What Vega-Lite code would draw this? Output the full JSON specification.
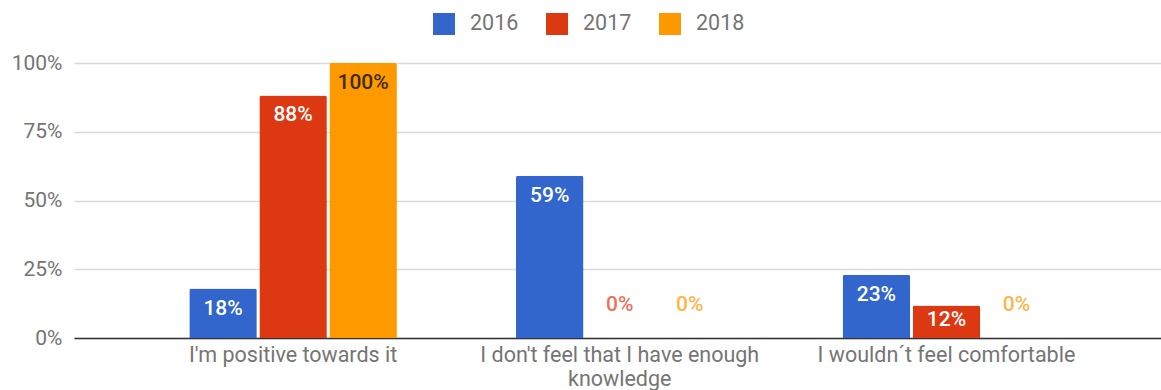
{
  "$schema": "https://vega.github.io/schema/vega-lite/v6.json",
  "width": 1087,
  "height": 275,
  "autosize": {"type": "none"},
  "padding": {"left": 74, "top": 63, "right": 0, "bottom": 52},
  "background": "white",
  "config": {"view": {"stroke": null}, "font": "Roboto"},
  "data": {
    "values": [
      {"answer": "I'm positive towards it", "year": "2016", "value": 0.18},
      {"answer": "I'm positive towards it", "year": "2017", "value": 0.882},
      {"answer": "I'm positive towards it", "year": "2018", "value": 1.0},
      {"answer": "I don't feel that I have enough knowledge", "year": "2016", "value": 0.59},
      {"answer": "I don't feel that I have enough knowledge", "year": "2017", "value": 0},
      {"answer": "I don't feel that I have enough knowledge", "year": "2018", "value": 0},
      {"answer": "I wouldn´t feel comfortable", "year": "2016", "value": 0.23},
      {"answer": "I wouldn´t feel comfortable", "year": "2017", "value": 0.118},
      {"answer": "I wouldn´t feel comfortable", "year": "2018", "value": 0}
    ]
  },
  "encoding": {
    "x": {
      "field": "answer",
      "type": "nominal",
      "sort": ["I'm positive towards it", "I don't feel that I have enough knowledge", "I wouldn´t feel comfortable"],
      "scale": {"paddingInner": 0.3645, "paddingOuter": 0.346, "align": 0.51},
      "axis": {
        "title": null,
        "labelAngle": 0,
        "labelLimit": 0,
        "ticks": false,
        "domainColor": "#333333",
        "domainWidth": 1.5,
        "labelFontSize": 21.5,
        "labelColor": "#757575",
        "labelPadding": 6,
        "labelLineHeight": 24,
        "labelExpr": "datum.value == \"I don't feel that I have enough knowledge\" ? [\"I don't feel that I have enough\", \"knowledge\"] : datum.label"
      }
    },
    "xOffset": {
      "field": "year",
      "type": "nominal",
      "scale": {"paddingInner": 0.036, "paddingOuter": 0}
    },
    "y": {
      "field": "value",
      "type": "quantitative",
      "scale": {"domain": [0, 1]},
      "axis": {
        "title": null,
        "values": [0, 0.25, 0.5, 0.75, 1],
        "format": ".0%",
        "domain": false,
        "ticks": false,
        "labelFontSize": 21,
        "labelColor": "#757575",
        "labelPadding": 12,
        "gridColor": "#d9d9d9",
        "gridWidth": 1.5
      }
    }
  },
  "layer": [
    {
      "mark": {"type": "bar", "cornerRadiusTopLeft": 2, "cornerRadiusTopRight": 2},
      "encoding": {
        "color": {
          "field": "year",
          "type": "nominal",
          "scale": {"domain": ["2016", "2017", "2018"], "range": ["#3366CC", "#DC3912", "#FF9900"]},
          "legend": {
            "title": null,
            "orient": "none",
            "direction": "horizontal",
            "legendX": 359,
            "legendY": -50,
            "padding": 0,
            "symbolType": "square",
            "symbolSize": 484,
            "symbolStrokeWidth": 0,
            "symbolOpacity": 1,
            "labelFontSize": 21.5,
            "labelColor": "#757575",
            "labelOffset": 15,
            "columnPadding": 27
          }
        }
      }
    },
    {
      "transform": [{"filter": "datum.value >= 0.15"}],
      "mark": {"type": "text", "dy": 20, "fontSize": 21, "fontWeight": 500, "baseline": "middle"},
      "encoding": {
        "text": {"field": "value", "type": "quantitative", "format": ".0%"},
        "color": {"condition": {"test": "datum.year === '2018'", "value": "#3d2b00"}, "value": "white"}
      }
    },
    {
      "transform": [{"filter": "datum.value > 0 && datum.value < 0.15"}],
      "mark": {"type": "text", "dy": 14, "fontSize": 21, "fontWeight": 500, "baseline": "middle"},
      "encoding": {
        "text": {"field": "value", "type": "quantitative", "format": ".0%"},
        "color": {"value": "white"}
      }
    },
    {
      "transform": [{"filter": "datum.value == 0"}],
      "mark": {"type": "text", "dy": -33, "fontSize": 21, "fontWeight": 500, "baseline": "middle"},
      "encoding": {
        "text": {"field": "value", "type": "quantitative", "format": ".0%"},
        "color": {"condition": {"test": "datum.year === '2017'", "value": "#e8735c"}, "value": "#ffb547"}
      }
    }
  ]
}
